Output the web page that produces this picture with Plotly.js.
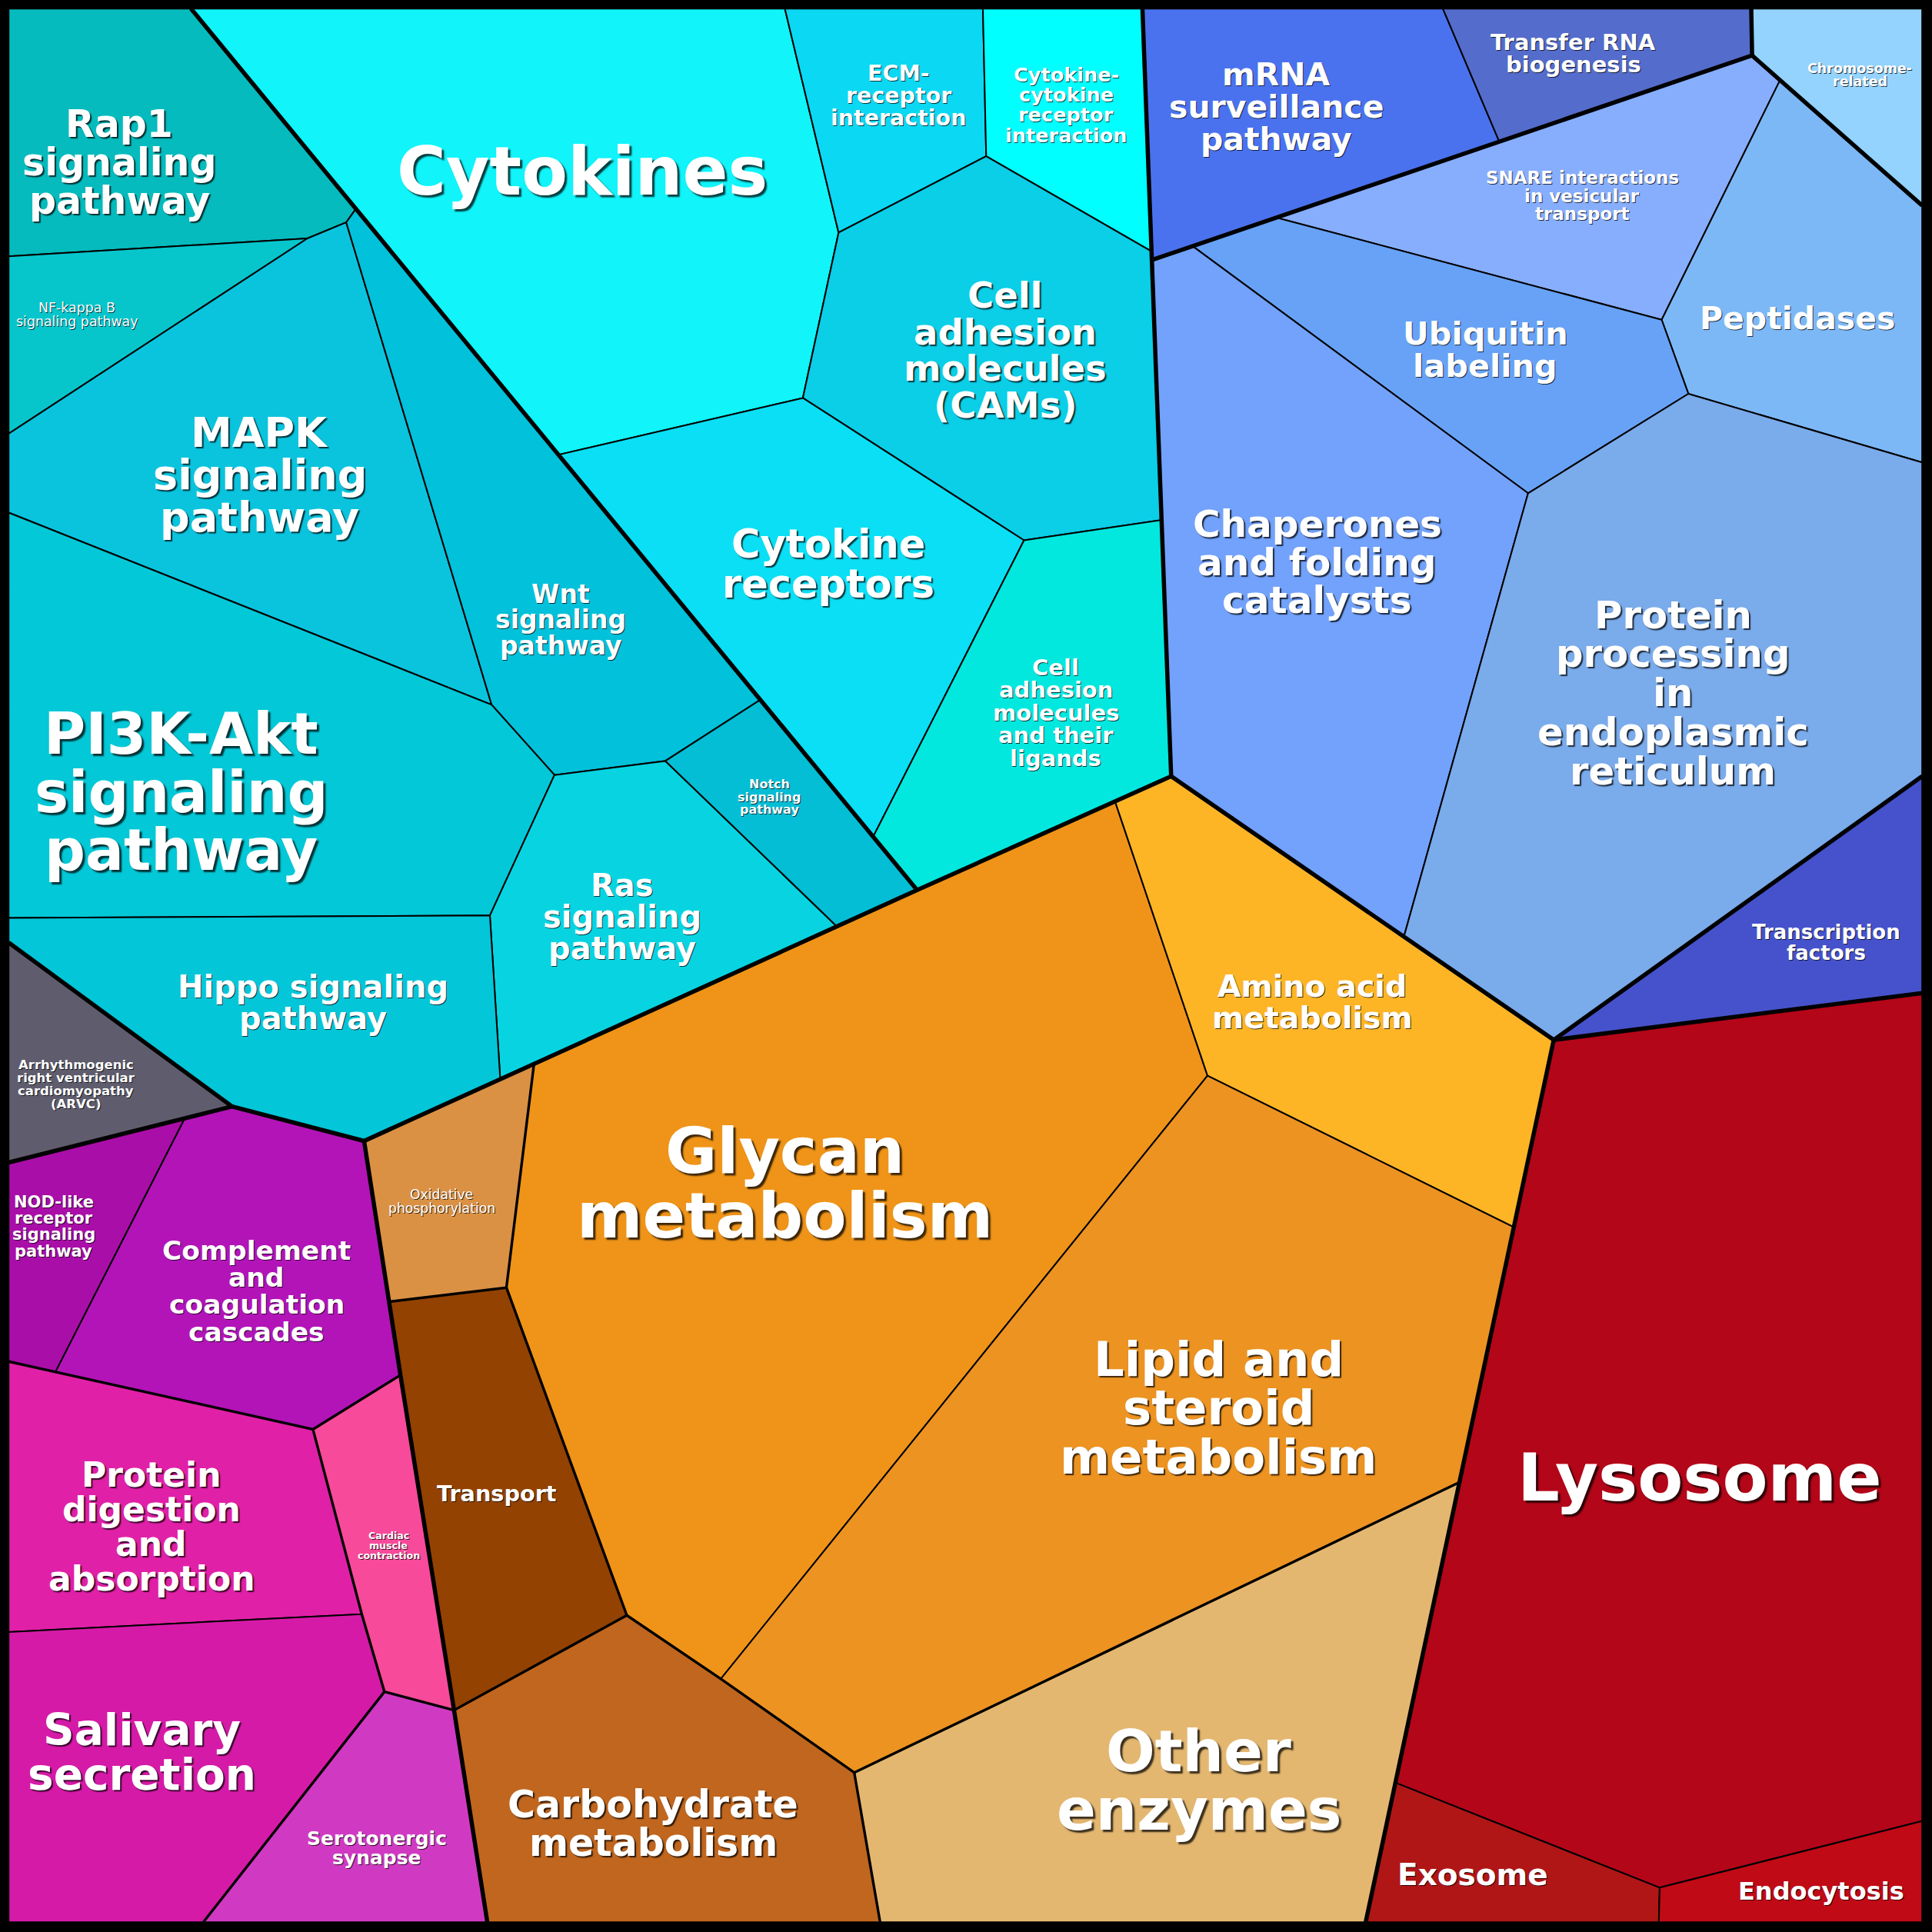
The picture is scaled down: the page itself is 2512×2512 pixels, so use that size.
<!DOCTYPE html>
<html><head><meta charset="utf-8">
<script src="https://cdn.plot.ly/plotly-3.0.1.min.js"></script>
<style>html,body{margin:0;padding:0;background:#000;}</style>
</head><body><div id="chart" style="width:2512px;height:2512px;"></div>
<script>
// ---- Data: cell names (KEGG categories) ----
const cellLabels = [
 'Rap1<br>signaling<br>pathway','NF-kappa B<br>signaling pathway','MAPK<br>signaling<br>pathway','Wnt<br>signaling<br>pathway',
 'PI3K-Akt<br>signaling<br>pathway','Ras<br>signaling<br>pathway','Notch<br>signaling<br>pathway','Hippo signaling<br>pathway',
 'Cytokines','ECM-<br>receptor<br>interaction','Cytokine-<br>cytokine<br>receptor<br>interaction','Cell<br>adhesion<br>molecules<br>(CAMs)',
 'Cytokine<br>receptors','Cell<br>adhesion<br>molecules<br>and their<br>ligands',
 'mRNA<br>surveillance<br>pathway','Transfer RNA<br>biogenesis','Chromosome-<br>related','SNARE interactions<br>in vesicular<br>transport',
 'Peptidases','Ubiquitin<br>labeling','Chaperones<br>and folding<br>catalysts','Protein<br>processing<br>in<br>endoplasmic<br>reticulum',
 'Transcription<br>factors',
 'Glycan<br>metabolism','Amino acid<br>metabolism','Lipid and<br>steroid<br>metabolism','Other<br>enzymes','Carbohydrate<br>metabolism',
 'Transport','Oxidative<br>phosphorylation',
 'Lysosome','Exosome','Endocytosis',
 'Arrhythmogenic<br>right ventricular<br>cardiomyopathy<br>(ARVC)','NOD-like<br>receptor<br>signaling<br>pathway','Complement<br>and<br>coagulation<br>cascades',
 'Protein<br>digestion<br>and<br>absorption','Salivary<br>secretion','Cardiac<br>muscle<br>contraction','Serotonergic<br>synapse'
];

// ---- Data: Voronoi cell polygons ----
const cellPolyX = [
 [7,155,288.5,281,249.5,7],
 [7,249.5,7],
 [249.5,281,399,7,7],
 [288.5,617,540,450,399,281],
 [7,399,450,397.6,7],
 [450,540,679,406,397.6],
 [540,617,744.3,679],
 [7,397.6,406,295.5,188.4,7],
 [155,637,680.6,651.6,453.7],
 [637,797.7,800.4,680.6],
 [797.7,927.2,934.6,800.4],
 [680.6,800.4,934.6,943.1,831.1,651.6],
 [453.7,651.6,831.1,708.7,617],
 [831.1,943.1,950.5,744.3,708.7],
 [927.2,1171,1216.8,1036,968,935.6],
 [1171,1421.3,1422,1216.8],
 [1421.3,1560,1560,1422],
 [1036,1216.8,1422,1444.7,1348.6],
 [1444.7,1560,1560,1370.3,1348.6],
 [968,1036,1348.6,1370.3,1240.2],
 [935.6,968,1240.2,1139.4,950.5],
 [1240.2,1370.3,1560,1560,1261,1139.4],
 [1261,1560,1560],
 [433.4,744.3,905,980,585,508.7,411],
 [905,950.5,1261,1228.6,980],
 [980,1228.6,1184.5,693.3,585],
 [693.3,1184.5,1108.4,714.3],
 [368.5,508.7,585,693.3,714.3,395.5],
 [315.8,411,508.7,368.5],
 [295.5,433.4,411,315.8],
 [1261,1560,1560,1347,1133],
 [1133,1347,1346.3,1108.4],
 [1347,1560,1560,1346.3],
 [7,188.4,7],
 [7,150,45,7],
 [150,188.4,295.5,325,254,45],
 [7,45,254,293.6,7],
 [7,293.6,312,165,7],
 [254,325,368.5,312,293.6],
 [312,368.5,395.5,165]
];
const cellPolyY = [
 [7,7,170,180.5,193.5,208],
 [208,193.5,352],
 [193.5,180.5,572,416,352],
 [170,568,617.6,629,572,180.5],
 [416,572,629,743,745],
 [629,617.6,751.7,875.8,743],
 [617.6,568,722.4,751.7],
 [745,743,875.8,926,898,765],
 [7,7,188.8,323,369],
 [7,7,126.8,188.8],
 [7,7,204,126.8],
 [188.8,126.8,204,422,438.5,323],
 [369,323,438.5,679,568],
 [438.5,422,630,722.4,679],
 [7,7,114.9,176.6,199.8,210.8],
 [7,7,45,114.9],
 [7,7,166.8,45],
 [176.6,114.9,45,65,259.5],
 [65,166.8,375.3,319.6,259.5],
 [199.8,176.6,259.5,319.6,400.3],
 [210.8,199.8,400.3,760.2,630],
 [400.3,319.6,375.3,630,844,760.2],
 [844,630,806],
 [863.5,722.4,650.5,873,1362.6,1311,1045],
 [650.5,630,844,996,873],
 [873,996,1203,1438.6,1362.6],
 [1438.6,1203,1560,1560],
 [1388,1311,1362.6,1438.6,1560,1560],
 [1056.5,1045,1311,1388],
 [926,863.5,1045,1056.5],
 [844,806,1478,1532,1447],
 [1447,1532,1560,1560],
 [1532,1478,1560,1560],
 [765,898,943.5],
 [943.5,907.6,1113.5,1105],
 [907.6,898,926,1116,1160,1113.5],
 [1105,1113.5,1160,1310,1324.5],
 [1324.5,1310,1373,1560,1560],
 [1160,1116,1388,1373,1310],
 [1373,1388,1560,1560]
];

// ---- Group boundaries (hierarchy levels) ----
const majorBoundaryX = [155,744.3,null, 7,188.4,295.5,744.3,950.5,1261,1560,null, 7,188.4,null, 927.2,950.5,null,
  295.5,315.8,325,368.5,395.5,null, 1261,1108.4,null, 935.6,1422,1421.3,null, 1422,1560,null, 1261,1560];
const majorBoundaryY = [7,722.4,null, 765,898,926,722.4,630,844,806,null, 943.5,898,null, 7,630,null,
  926,1056.5,1116,1388,1560,null, 844,1560,null, 210.8,45,7,null, 45,166.8,null, 844,630];
const minorBoundaryX = [433.4,411,315.8,null, 411,508.7,368.5,null, 508.7,585,693.3,714.3,null, 693.3,1184.5,null,
  7,254,325,null, 254,293.6,312,368.5,null, 312,165];
const minorBoundaryY = [863.5,1045,1056.5,null, 1045,1311,1388,null, 1311,1362.6,1438.6,1560,null, 1438.6,1203,null,
  1105,1160,1116,null, 1160,1310,1373,1388,null, 1373,1560];

// ---- Styles ----
const cellColors = [
 '#05BBBD','#06C6CC','#0AC4DE','#02C1DA','#03C8D7','#08D4E1','#03BED5','#03C6D8',
 '#10F4FA','#0BD8F3','#00FFFF','#0BCEE7','#0BDFF5','#02E8DE',
 '#4A72EE','#546CCB','#93D3FD','#87AEFD','#7DB8F6','#67A2F6','#72A2FB','#7AABEB','#4652CB',
 '#EF9418','#FDB526','#EC9322','#E4B770','#C0661E','#934202','#DA9144',
 '#B40619','#B01616','#C00A16',
 '#5F5D6D','#AA0EA8','#B314B8','#E120A8','#D61AA8','#F84A9A','#D03AC2'
];
const labelX = [97,62.7,210.8,455,147,505,624.3,254.3,
 472.5,729.3,865.4,816.1,672,856.8,
 1036,1276.9,1509.6,1284.2,1458.8,1205.5,1069,1357.9,1482.3,
 637,1065,989,973,530,403,358.3,
 1379.4,1195.6,1478,
 61.7,43.4,208.2,122.8,115.1,315.3,305.9];
const labelY = [132.2,255.2,385.5,503,642.7,744,646.8,813.4,
 138.9,77.8,85.1,284.4,458,578.5,
 86.7,43.5,60.9,158.9,258.7,283.6,456.1,562.5,764.9,
 960.3,813,1142.8,1445.1,1480.2,1212,975,
 1199.2,1521.6,1534.9,
 880.1,995.4,1047.9,1239,1422.2,1254.2,1500.1];
const labelSize = [49,17.4,54,33,74,40,16,40,
 87,28.5,25.6,46.5,51,29,
 41,29,17.5,23,41,41.5,48.5,49.7,26,
 82,39.5,62.5,75,49,28.7,17.2,
 86,39,32,
 16.5,21,34.5,44,56.5,12.6,25];
const labelWeight = cellLabels.map((t,i)=> (i===1 || i===29) ? 'normal' : 'bold');

const SCALE = 2512/1568;
const traces = [];
cellLabels.forEach((name,i)=>{
  traces.push({
    type:'scatter', mode:'lines',
    x: cellPolyX[i].concat([cellPolyX[i][0]]),
    y: cellPolyY[i].concat([cellPolyY[i][0]]),
    fill:'toself', fillcolor: cellColors[i],
    line:{color:'#000', width:2},
    hoverinfo:'skip', showlegend:false, name: name.replace(/<br>/g,' ')
  });
});
traces.push({type:'scatter', mode:'lines', x:minorBoundaryX, y:minorBoundaryY, connectgaps:false,
  line:{color:'#000', width:3.4}, hoverinfo:'skip', showlegend:false});
traces.push({type:'scatter', mode:'lines', x:majorBoundaryX, y:majorBoundaryY, connectgaps:false,
  line:{color:'#000', width:5.5}, hoverinfo:'skip', showlegend:false});

const annotations = [];
cellLabels.forEach((txt,i)=>{
  const lines = txt.split('<br>');
  const n = lines.length;
  const gap = labelSize[i]*1.02/SCALE;
  const o = Math.max(1, Math.round(labelSize[i]/28));
  lines.forEach((ln,k)=>{
    annotations.push({
      x: labelX[i], y: labelY[i] + (k-(n-1)/2)*gap, xref:'x', yref:'y',
      text: ln, showarrow:false, xanchor:'center', yanchor:'middle', borderpad:0,
      font:{family:'DejaVu Sans', size: labelSize[i], color:'#ffffff', weight: labelWeight[i],
            shadow: o+'px '+o+'px '+(o*0.6).toFixed(1)+'px rgba(0,0,0,0.75)'}
    });
  });
});

const layout = {
  width:2512, height:2512,
  margin:{l:0,r:0,t:0,b:0,pad:0},
  paper_bgcolor:'#000', plot_bgcolor:'#000',
  xaxis:{range:[0,1568], visible:false, fixedrange:true},
  yaxis:{range:[1568,0], visible:false, fixedrange:true},
  hovermode:false, showlegend:false,
  annotations: annotations
};
Plotly.newPlot('chart', traces, layout, {staticPlot:true, displayModeBar:false});
</script></body></html>
